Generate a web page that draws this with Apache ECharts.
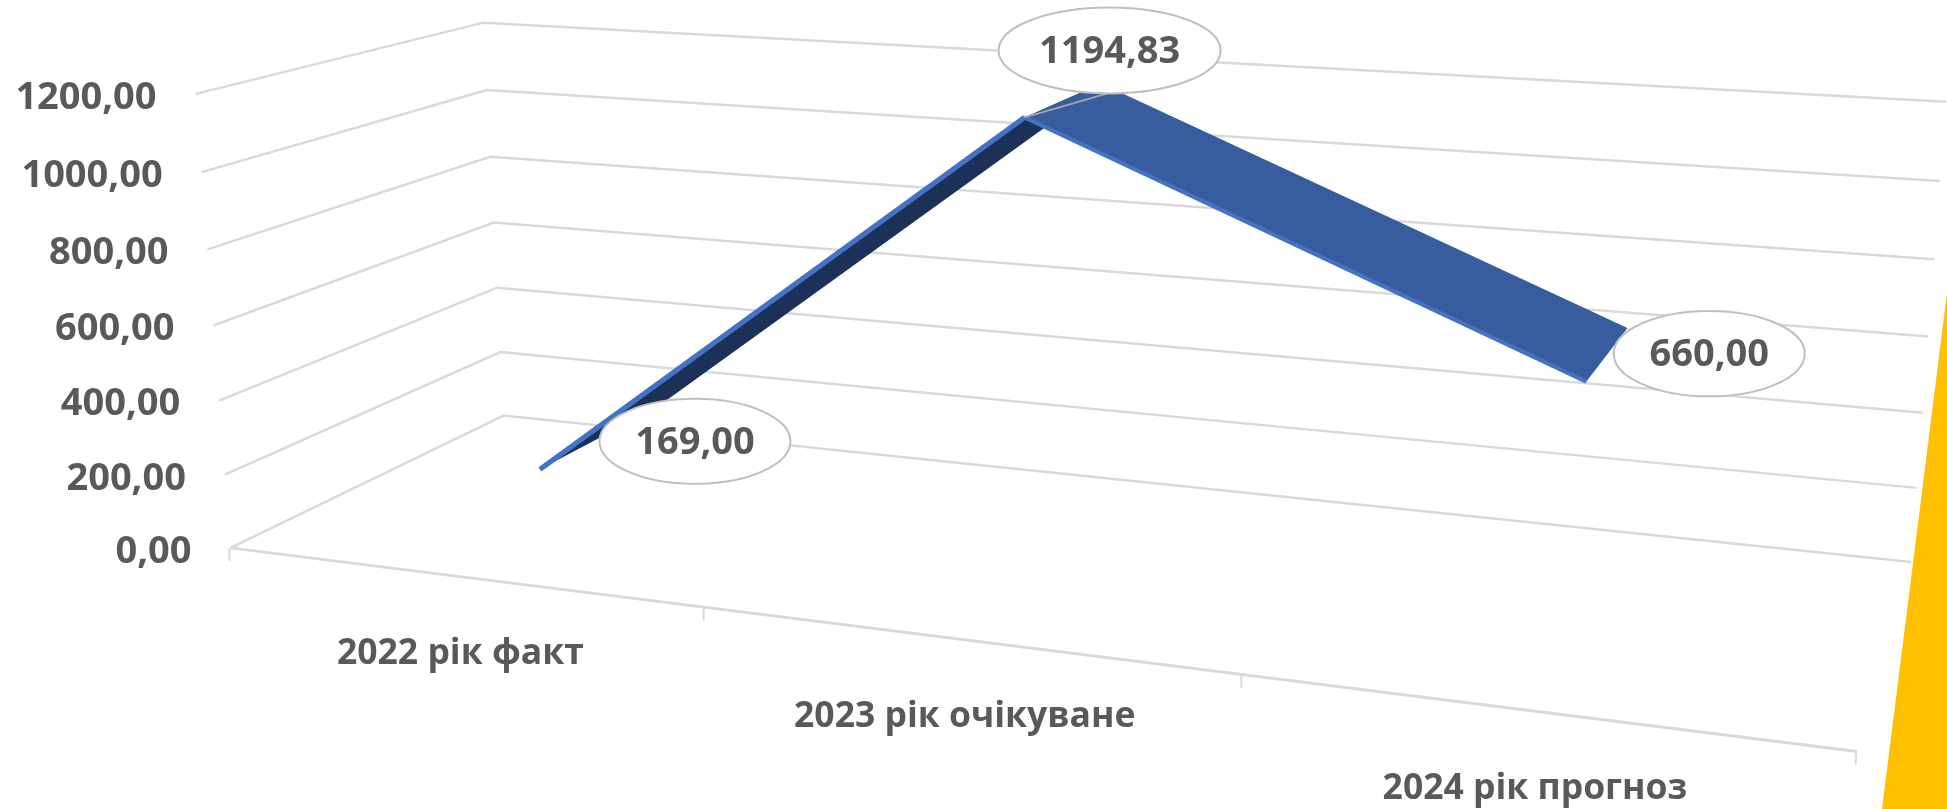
<!DOCTYPE html>
<html>
<head>
<meta charset="utf-8">
<title>Chart</title>
<script src="https://cdn.jsdelivr.net/npm/echarts@6/dist/echarts.min.js"></script>
<style>
  html, body { margin: 0; padding: 0; background: #fff; }
  #grafico { width: 1947px; height: 809px; }
</style>
</head>
<body>
<div id="grafico"></div>
<script>
// Datos
const categorias = ['2022 рік факт', '2023 рік очікуване', '2024 рік прогноз'];
const valores = [169.00, 1194.83, 660.00];
const ticksY = [0, 200, 400, 600, 800, 1000, 1200];

// Esquinas de la caja 3D en pantalla: [u, v, w, x, y]
// u = a lo largo de categorias, v = altura, w = profundidad
const esquinas = [
  [0, 0, 0, 231, 548], [1 / 3, 0, 0, 704, 608], [2 / 3, 0, 0, 1241.5, 674], [1, 0, 0, 1858, 750],
  [0, 0, 1, 503.6, 415.6], [1, 0, 1, 1911, 562.7],
  [0, 0.5, 0, 213.4, 326.4], [0, 0.5, 1, 494, 222], [1, 0.5, 1, 1928, 337],
  [0, 1, 0, 195.5, 94], [0, 1, 1, 483.5, 22], [1, 1, 1, 1946, 102]
];

// Profundidad de la cinta y posicion de las etiquetas respecto al punto
const cintaFrente = 0.3;
const cintaFondo = 0.7;
const cintaFondoSube = 0.77;
const desfaseEtiquetas = [[155, -28], [85, -67], [123, -28]];
const radiosEtiquetas = [[95.5, 42.5], [111, 43], [95.5, 42.7]];

const fuente = 'bold 38px "Open Sans"';
const fuenteCat = 'bold 35.5px "Open Sans"';
const gris = '#595959';
const colorLinea = '#D9D9D9';

// Ajuste de la matriz de proyeccion (minimos cuadrados sobre las esquinas)
function ajustarMatriz(puntos) {
  const filas = [];
  const lado = [];
  puntos.forEach(function (p) {
    const [u, v, w, x, y] = p;
    filas.push([u, v, w, 1, 0, 0, 0, 0, -x * u, -x * v, -x * w]);
    lado.push(x);
    filas.push([0, 0, 0, 0, u, v, w, 1, -y * u, -y * v, -y * w]);
    lado.push(y);
  });
  const n = 11;
  const m = [];
  for (let i = 0; i < n; i++) {
    m.push(new Array(n + 1).fill(0));
    filas.forEach(function (f, k) {
      for (let j = 0; j < n; j++) m[i][j] += f[i] * f[j];
      m[i][n] += f[i] * lado[k];
    });
  }
  for (let i = 0; i < n; i++) {
    let mejor = i;
    for (let k = i + 1; k < n; k++) if (Math.abs(m[k][i]) > Math.abs(m[mejor][i])) mejor = k;
    [m[i], m[mejor]] = [m[mejor], m[i]];
    for (let k = 0; k < n; k++) {
      if (k === i) continue;
      const r = m[k][i] / m[i][i];
      for (let j = i; j <= n; j++) m[k][j] -= r * m[i][j];
    }
  }
  return m.map(function (f, i) { return f[n] / f[i]; });
}
const P = ajustarMatriz(esquinas);

function proyectar(u, v, w) {
  const d = P[8] * u + P[9] * v + P[10] * w + 1;
  return [
    (P[0] * u + P[1] * v + P[2] * w + P[3]) / d,
    (P[4] * u + P[5] * v + P[6] * w + P[7]) / d
  ];
}

// Pasa de los ejes de ECharts (rejilla oculta) a la caja 3D
function punto3d(params, api, cat, valor, w) {
  const c = params.coordSys;
  const p = api.coord([cat, valor]);
  return proyectar((p[0] - c.x) / c.width, 1 - (p[1] - c.y) / c.height, w);
}
function alturaEje(params, api, valor) {
  const c = params.coordSys;
  return 1 - (api.coord([0, valor])[1] - c.y) / c.height;
}

function dibujarRejilla(params, api) {
  const valor = api.value(1);
  const v = alturaEje(params, api, valor);
  const frente = proyectar(0, v, 0);
  return {
    type: 'group',
    children: [
      {
        type: 'polyline',
        shape: { points: [frente, proyectar(0, v, 1), proyectar(1, v, 1)] },
        style: { stroke: colorLinea, lineWidth: 2.5, fill: null }
      },
      {
        type: 'text',
        style: {
          x: frente[0] - 39, y: frente[1] + 4,
          text: valor.toFixed(2).replace('.', ','),
          font: fuente, fill: gris, align: 'right', verticalAlign: 'middle'
        }
      }
    ]
  };
}

function dibujarCategoria(params, api) {
  const i = params.dataIndex;
  const hijos = [];
  const marca = function (u) {
    const a = proyectar(u, 0, 0);
    return {
      type: 'line',
      shape: { x1: a[0] - 1, y1: a[1], x2: a[0] - 1, y2: a[1] + 13 },
      style: { stroke: colorLinea, lineWidth: 2 }
    };
  };
  hijos.push(marca(i / categorias.length));
  if (i === categorias.length - 1) {
    hijos.push(marca(1));
    hijos.push({
      type: 'line',
      shape: { x1: proyectar(0, 0, 0)[0], y1: proyectar(0, 0, 0)[1], x2: proyectar(1, 0, 0)[0], y2: proyectar(1, 0, 0)[1] },
      style: { stroke: colorLinea, lineWidth: 3 }
    });
  }
  const base = punto3d(params, api, i, 0, 0);
  hijos.push({
    type: 'text',
    style: {
      x: base[0] - (i === 2 ? 4 : 0), y: base[1] + 77,
      text: categorias[i],
      font: fuenteCat, fill: gris, align: 'center', verticalAlign: 'middle'
    }
  });
  return { type: 'group', children: hijos };
}

function dibujarCinta(params, api) {
  const i = params.dataIndex;
  if (i === valores.length - 1) return { type: 'group', children: [] };
  const sube = valores[i + 1] > valores[i];
  const fondo = sube ? cintaFondoSube : cintaFondo;
  const a1 = punto3d(params, api, i, valores[i], cintaFrente);
  const a2 = punto3d(params, api, i, valores[i], fondo);
  const b1 = punto3d(params, api, i + 1, valores[i + 1], cintaFrente);
  const b2 = punto3d(params, api, i + 1, valores[i + 1], fondo);
  const hijos = [{
    type: 'polygon',
    shape: { points: [a1, b1, b2, a2] },
    style: { fill: sube ? '#1C3158' : '#385D9F' }
  }];
  hijos.push({
    type: 'polyline',
    shape: { points: [a1, b1] },
    style: { stroke: '#4472C4', lineWidth: sube ? 5 : 4, fill: null }
  });
  return { type: 'group', children: hijos };
}

function dibujarEtiqueta(params, api) {
  const i = params.dataIndex;
  const p = punto3d(params, api, i, api.value(1), cintaFrente);
  const cx = p[0] + desfaseEtiquetas[i][0];
  const cy = p[1] + desfaseEtiquetas[i][1];
  const hijos = [];
  // solo la etiqueta del maximo lleva linea guia
  if (i === 1) {
    hijos.push({
      type: 'line',
      shape: { x1: p[0], y1: p[1], x2: cx - 2, y2: cy + radiosEtiquetas[i][1] },
      style: { stroke: '#A6A6A6', lineWidth: 2 }
    });
  }
  hijos.push({
    type: 'ellipse',
    shape: { cx: cx, cy: cy, rx: radiosEtiquetas[i][0], ry: radiosEtiquetas[i][1] },
    style: { fill: '#FFFFFF', stroke: '#BFBFBF', lineWidth: 2 }
  });
  hijos.push({
    type: 'text',
    style: {
      x: cx, y: cy + 2,
      text: api.value(1).toFixed(2).replace('.', ','),
      font: fuente, fill: gris, align: 'center', verticalAlign: 'middle'
    }
  });
  return { type: 'group', children: hijos };
}

document.addEventListener('DOMContentLoaded', function () {
  const chart = echarts.init(document.getElementById('grafico'));
  const puntos = valores.map(function (v, i) { return [i, v]; });

  chart.setOption({
    animation: false,
    backgroundColor: '#FFFFFF',
    grid: { left: 0, right: 0, top: 0, bottom: 0 },
    xAxis: { type: 'category', data: categorias, show: false },
    yAxis: { type: 'value', min: 0, max: 1200, interval: 200, show: false },
    graphic: [{
      type: 'polygon',
      shape: { points: [[1947, 293], [1882, 809], [1947, 809]] },
      style: { fill: '#FFC000' }
    }],
    series: [
      {
        type: 'custom', silent: true, z: 1,
        renderItem: dibujarRejilla,
        encode: { x: 0, y: 1 },
        data: ticksY.map(function (v) { return [0, v]; })
      },
      {
        type: 'custom', silent: true, z: 2,
        renderItem: dibujarCategoria,
        encode: { x: 0, y: 1 },
        data: categorias.map(function (c, i) { return [i, 0]; })
      },
      {
        type: 'custom', silent: true, z: 3,
        renderItem: dibujarCinta,
        encode: { x: 0, y: 1 },
        data: puntos
      },
      {
        type: 'custom', silent: true, z: 4,
        renderItem: dibujarEtiqueta,
        encode: { x: 0, y: 1 },
        data: puntos
      }
    ]
  });
});
</script>
</body>
</html>
